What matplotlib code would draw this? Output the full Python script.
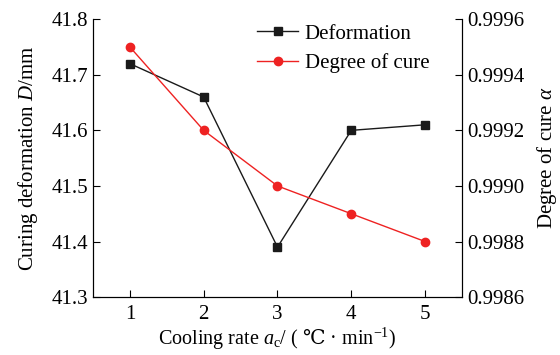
import numpy as np
import matplotlib
matplotlib.use('Agg')
import matplotlib.pyplot as plt
from matplotlib.ticker import FormatStrFormatter

plt.rcParams['font.family'] = ['Liberation Serif', 'DejaVu Serif']
plt.rcParams['mathtext.fontset'] = 'custom'
plt.rcParams['mathtext.rm'] = 'DejaVu Serif'
plt.rcParams['mathtext.it'] = 'Liberation Serif:italic'
plt.rcParams['mathtext.sf'] = 'Liberation Serif'

cooling_rate = [1, 2, 3, 4, 5]
deformation = [41.72, 41.66, 41.39, 41.60, 41.61]
degree_of_cure = [0.9995, 0.9992, 0.9990, 0.9989, 0.9988]

fig = plt.figure(figsize=(5.6, 3.55), dpi=100)
ax = fig.add_axes([0.166, 0.163, 0.659, 0.783])
ax2 = ax.twinx()

l1, = ax.plot(cooling_rate, deformation, color='#1a1a1a', lw=1,
              marker='s', ms=5.5, label='Deformation')
l2, = ax2.plot(cooling_rate, degree_of_cure, color='#ee2222', lw=1,
               marker='o', ms=6, label='Degree of cure')

ax.set_xlim(0.5, 5.5)
ax.set_ylim(41.3, 41.8)
ax.set_yticks(np.arange(41.3, 41.81, 0.1))
ax.yaxis.set_major_formatter(FormatStrFormatter('%.1f'))
ax2.set_ylim(0.9986, 0.9996)
ax2.set_yticks(np.arange(0.9986, 0.99961, 0.0002))
ax2.yaxis.set_major_formatter(FormatStrFormatter('%.4f'))
ax.set_xticks(cooling_rate)

for a in (ax, ax2):
    a.spines['top'].set_visible(False)
    a.tick_params(direction='in', length=5, width=0.8, labelsize=15)
ax.tick_params(axis='x', pad=6)

ax.set_xlabel(r'Cooling rate $a_\mathsf{c}$/ ( $\mathrm{℃}$ · min$^{\mathsf{-1}}$)',
              fontsize=14.5, labelpad=1)
ax.set_ylabel(r'Curing deformation $D$/mm', fontsize=15, labelpad=8)
ax2.set_ylabel(r'Degree of cure $\alpha$', fontsize=15, labelpad=8)

ax.legend([l1, l2], ['Deformation', 'Degree of cure'], loc='upper left',
          bbox_to_anchor=(0.393, 1.05), frameon=False, fontsize=15,
          handlelength=2.0, handletextpad=0.3, labelspacing=0.45)

fig.savefig('out.png', dpi=100)
